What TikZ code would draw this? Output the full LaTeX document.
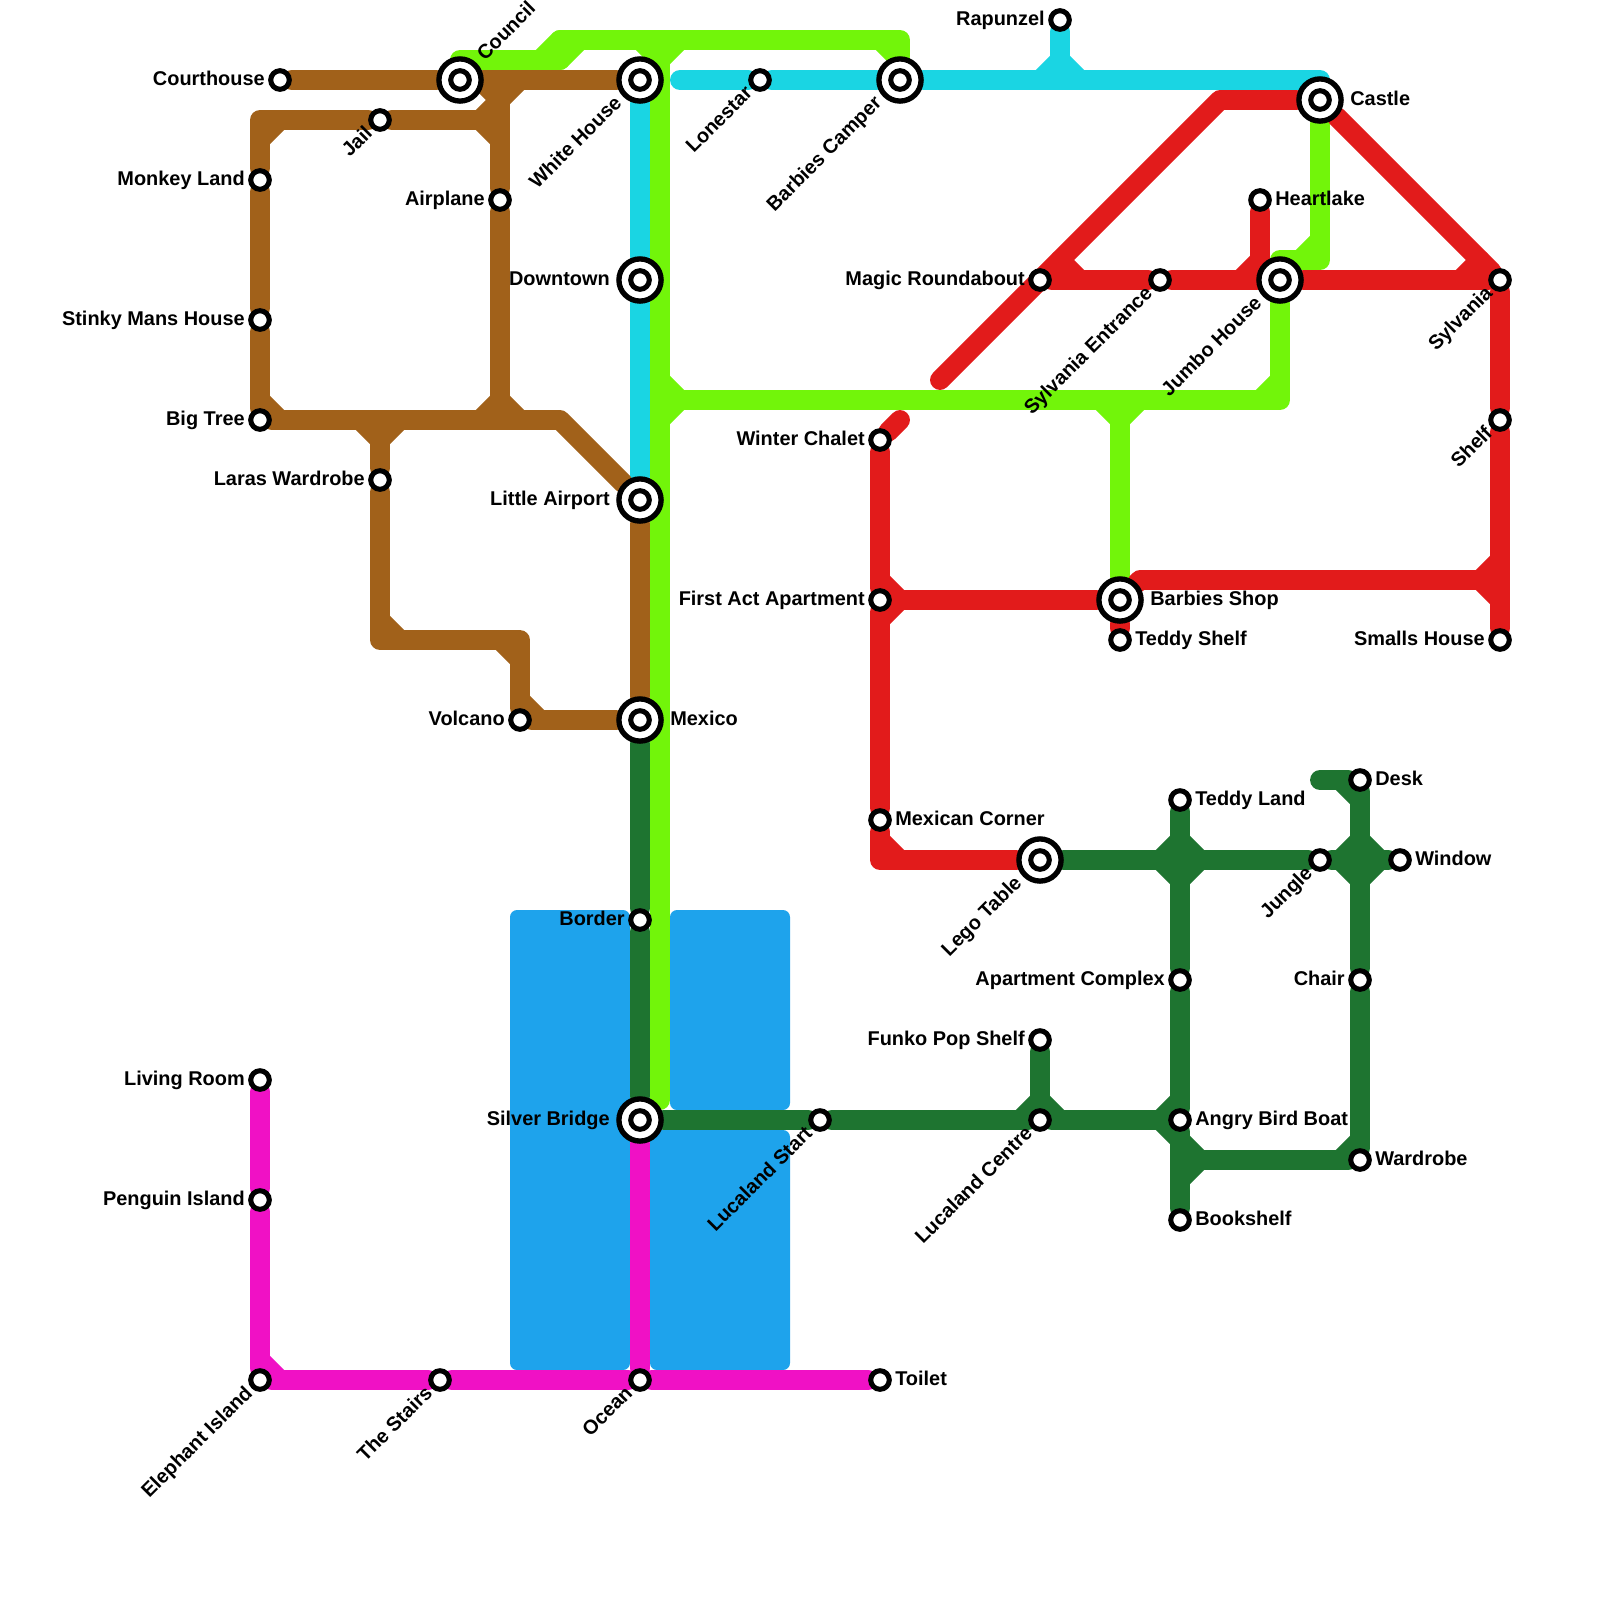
\documentclass[tikz,border=0pt]{standalone}
\usepackage{fontspec}
\setmainfont{Liberation Sans}
\usetikzlibrary{backgrounds}

\definecolor{brownline}{HTML}{A1611A}
\definecolor{limeline}{HTML}{72F50A}
\definecolor{cyanline}{HTML}{1AD5E3}
\definecolor{redline}{HTML}{E21B1B}
\definecolor{forestline}{HTML}{1E7430}
\definecolor{pinkline}{HTML}{F011C5}
\definecolor{water}{HTML}{1EA3EC}

\tikzset{
    route/.style={line width=14.17pt,line cap=round,line join=round,draw=#1},
    pond/.style={fill=water,rounded corners=5pt},
    stop/.style={circle,draw=black,fill=white,line width=3.6pt,minimum size=13.2pt,inner sep=0pt},
    hub/.style={circle,draw=black,fill=white,line width=3.8pt,minimum size=30pt,inner sep=0pt,label={[stop]center:{}}},
    lbl/.style={font=\bfseries\fontsize{14.17}{16}\selectfont,inner sep=0pt,text=black},
    lblw/.style={lbl,anchor=base east},
    lble/.style={lbl,anchor=base west},
    lblsw/.style={lbl,anchor=base east,rotate=45},
    lblne/.style={lbl,anchor=base west,rotate=45}
}

\begin{document}
\begin{tikzpicture}[x=0.5cm,y=-0.5cm]
    \useasboundingbox (0,0) rectangle (80,80);

    % Stops, name to the west
    \foreach \n/\x/\y/\lab in {courthouse/14/4/Courthouse, monkeyland/13/9/Monkey Land, stinky/13/16/Stinky Mans House,
        bigtree/13/21/Big Tree, airplane/25/10/Airplane, larasw/19/24/Laras Wardrobe, volcano/26/36/Volcano,
        border/32/46/Border, rapunzel/53/1/Rapunzel, magic/52/14/Magic Roundabout, winter/44/22/Winter Chalet,
        firstact/44/30/First Act Apartment, funko/52/52/Funko Pop Shelf, apartment/59/49/Apartment Complex,
        chair/68/49/Chair, smalls/75/32/Smalls House, living/13/54/Living Room, penguin/13/60/Penguin Island} {
        \node[stop] (\n) at (\x,\y) {};
        \node[lblw] (\n-t) at ([shift={(-0.75,0.25)}]\n.center) {\lab};
    }
    % Stops, name to the east
    \foreach \n/\x/\y/\lab in {heartlake/63/10/Heartlake, teddyshelf/56/32/Teddy Shelf, mexican/44/41/Mexican Corner,
        teddyland/59/40/Teddy Land, desk/68/39/Desk, window/70/43/Window, angry/59/56/Angry Bird Boat,
        wardrobe/68/58/Wardrobe, bookshelf/59/61/Bookshelf, toilet/44/69/Toilet} {
        \node[stop] (\n) at (\x,\y) {};
        \node[lble] (\n-t) at ([shift={(0.75,0.25)}]\n.center) {\lab};
    }
    % Stops, slanted name
    \foreach \n/\x/\y/\lab in {jail/19/6/Jail, lonestar/38/4/Lonestar, sylentrance/58/14/Sylvania Entrance,
        sylvania/75/14/Sylvania, shelf/75/21/Shelf, jungle/66/43/Jungle, lucstart/41/56/Lucaland Start,
        luccentre/52/56/Lucaland Centre, elephant/13/69/Elephant Island, stairs/22/69/The Stairs, ocean/32/69/Ocean} {
        \node[stop] (\n) at (\x,\y) {};
        \node[lblsw] (\n-t) at ([shift={(-0.32,0.71)}]\n.center) {\lab};
    }

    % Interchanges
    \foreach \n/\x/\y/\lab in {downtown/32/14/Downtown, littleairport/32/25/Little Airport, silverbridge/32/56/Silver Bridge} {
        \node[hub] (\n) at (\x,\y) {};
        \node[lblw] (\n-t) at ([shift={(-1.5,0.25)}]\n.center) {\lab};
    }
    \foreach \n/\x/\y/\lab in {mexico/32/36/Mexico, castle/66/5/Castle, barbies/56/30/Barbies Shop} {
        \node[hub] (\n) at (\x,\y) {};
        \node[lble] (\n-t) at ([shift={(1.5,0.25)}]\n.center) {\lab};
    }
    \foreach \n/\x/\y/\lab in {whitehouse/32/4/White House, bcamper/45/4/Barbies Camper, jumbo/64/14/Jumbo House, lego/52/43/Lego Table} {
        \node[hub] (\n) at (\x,\y) {};
        \node[lblsw] (\n-t) at ([shift={(-0.86,1.2)}]\n.center) {\lab};
    }
    \node[hub] (council) at (23,4) {};
    \node[lblne] (council-t) at ([shift={(1.24,-0.91)}]council.center) {Council};

    \begin{pgfonlayer}{background}
        % Water
        \fill[pond] (25.5,45.5) rectangle (31.5,68.5);
        \fill[pond] (33.5,45.5) rectangle (39.5,55.5);
        \fill[pond] (32.5,56.5) rectangle (39.5,68.5);

        % Pink line
        \draw[route=pinkline] (living) -- (penguin) -- (elephant) -- (stairs) -- (ocean) -- (toilet);
        \draw[route=pinkline] (silverbridge) -- (ocean);
        \draw[route=pinkline] (13,68) -- (14,69);

        % Lime line
        \draw[route=limeline] (council.center) -- (23,3) -- (28,3);
        \draw[route=limeline] (bcamper) -- (45,2) -- (28,2);
        \draw[route=limeline] (33,2) -- (33,55);
        \draw[route=limeline] (33,20) -- (64,20) -- (jumbo);
        \draw[route=limeline] (jumbo.center) -- (64,13) -- (66,13) -- (castle);
        \draw[route=limeline] (56,20) -- (barbies);
        \draw[route=limeline] (27,3) -- (28,2) (28,3) -- (29,2) (44,2) -- (45,3)
            (32,2) -- (33,3) (33,3) -- (34,2) (33,19) -- (34,20) (33,21) -- (34,20)
            (63,20) -- (64,19) (65,13) -- (66,12) (55,20) -- (56,21) (57,20) -- (56,21);

        % Cyan line
        \draw[route=cyanline] (34,4) -- (lonestar) -- (bcamper) -- (66,4) -- (castle.center);
        \draw[route=cyanline] (whitehouse) -- (downtown) -- (littleairport);
        \draw[route=cyanline] (rapunzel) -- (53,4);
        \draw[route=cyanline] (52,4) -- (53,3) -- (54,4);

        % Brown line
        \draw[route=brownline] (courthouse) -- (council) -- (whitehouse);
        \draw[route=brownline] (bigtree) -- (stinky) -- (monkeyland) -- (13,6) -- (jail) -- (25,6);
        \draw[route=brownline] (25,4) -- (airplane) -- (25,21);
        \draw[route=brownline] (bigtree) -- (28,21) -- (littleairport) -- (mexico) -- (volcano) -- (26,32) -- (19,32) -- (larasw) -- (19,21);
        \draw[route=brownline] (13,7) -- (14,6) (24,6) -- (25,7) (24,6) -- (25,5) (24,4) -- (25,5) (26,4) -- (25,5)
            (13,20) -- (14,21) (24,21) -- (25,20) (25,20) -- (26,21) (18,21) -- (19,22) (20,21) -- (19,22)
            (26,35) -- (27,36) (25,32) -- (26,33) (19,31) -- (20,32);

        % Red line
        \draw[route=redline] (47,19) -- (61,5) -- (castle) -- (sylvania) -- (shelf) -- (smalls);
        \draw[route=redline] (magic) -- (sylentrance) -- (jumbo) -- (sylvania);
        \draw[route=redline] (heartlake) -- (63,14);
        \draw[route=redline] (45,21) -- (winter) -- (firstact) -- (mexican) -- (44,43) -- (lego);
        \draw[route=redline] (firstact) -- (barbies) -- (teddyshelf);
        \draw[route=redline] (barbies) -- (57,29) -- (75,29);
        \draw[route=redline] (53,13) -- (54,14) (62,14) -- (63,13) (73,14) -- (74,13) (74,29) -- (75,28) (74,29) -- (75,30)
            (44,29) -- (45,30) (44,31) -- (45,30) (44,42) -- (45,43);

        % Forest line
        \draw[route=forestline] (mexico) -- (border) -- (silverbridge) -- (lucstart) -- (luccentre) -- (angry);
        \draw[route=forestline] (funko) -- (luccentre);
        \draw[route=forestline] (teddyland) -- (apartment) -- (angry) -- (bookshelf);
        \draw[route=forestline] (lego) -- (jungle) -- (window);
        \draw[route=forestline] (66,39) -- (desk) -- (chair) -- (wardrobe) -- (59,58);
        \draw[route=forestline] (58,43) -- (59,42) -- (60,43) -- (59,44) -- cycle;
        \draw[route=forestline] (67,43) -- (68,42) -- (69,43) -- (68,44) -- cycle;
        \draw[route=forestline] (51,56) -- (52,55) -- (53,56) (58,56) -- (59,55) (58,56) -- (59,57)
            (59,57) -- (60,58) (59,59) -- (60,58) (67,58) -- (68,57) (67,39) -- (68,40);
    \end{pgfonlayer}
\end{tikzpicture}
\end{document}
